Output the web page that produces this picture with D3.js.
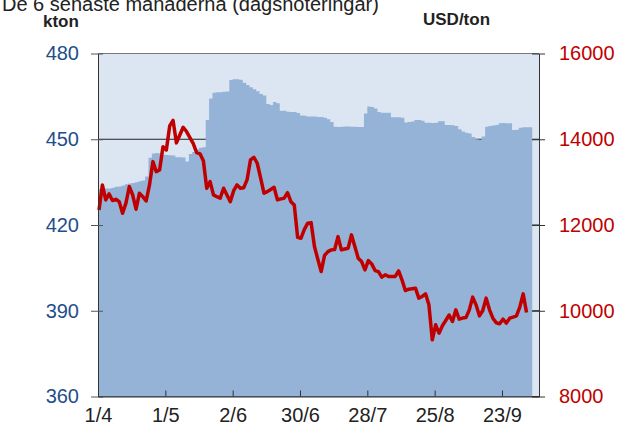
<!DOCTYPE html>
<html>
<head>
<meta charset="utf-8">
<script src="https://cdn.jsdelivr.net/npm/d3@7"></script>
<style>
  body { margin: 0; background: #fff; }
  svg { display: block; font-family: "Liberation Sans", Arial, sans-serif; }
</style>
</head>
<body>
<svg width="634" height="427"></svg>
<script>
// dagliga noteringar, index = handelsdag
var dateLabels = ['1/4', '1/5', '2/6', '30/6', '28/7', '25/8', '23/9'];
var dateTickIdx = [0, 20, 40, 60, 80, 100, 120];
var leftTicks = [360, 390, 420, 450, 480];
var rightTicks = [8000, 10000, 12000, 14000, 16000];

// lager, kton (staplar)
var stock = [
  432.6, 432.6, 432.8, 432.8, 433.0, 433.4, 433.5, 433.8, 434.3, 434.5,
  434.7, 435.0, 435.3, 435.6, 437.0, 443.5, 445.0, 445.2, 445.0, 444.6,
  444.5, 444.4, 444.3, 443.7, 443.7, 443.6, 442.2, 444.8, 445.5, 446.5,
  447.0, 447.2, 456.7, 464.3, 466.3, 466.4, 466.4, 466.6, 466.7, 470.7,
  471.0, 471.0, 470.8, 469.8, 469.0, 468.2, 467.5, 466.8, 465.8, 465.3,
  462.3, 462.0, 463.0, 462.6, 460.0, 460.0, 459.6, 459.5, 459.5, 459.2,
  458.3, 458.2, 458.0, 458.0, 458.0, 457.8, 457.8, 457.5, 457.0, 456.0,
  454.4, 454.3, 454.4, 454.5, 454.5, 454.4, 454.4, 454.3, 454.3, 459.0,
  461.5, 461.3, 460.8, 459.5, 459.3, 459.3, 459.3, 457.7, 457.7, 457.7,
  457.5, 455.9, 456.0, 456.2, 456.7, 456.7, 456.5, 455.8, 455.8, 455.7,
  455.8, 456.3, 456.3, 455.0, 455.0, 454.9, 454.6, 453.5, 452.7, 452.3,
  452.0, 450.8, 450.0, 449.8, 451.0, 454.4, 454.6, 454.8, 455.0, 455.6,
  455.7, 455.6, 455.6, 453.2, 453.3, 454.0, 454.2, 454.2, 454.2
];

// pris, USD/ton
var price = [
  12350, 12935, 12585, 12725, 12570, 12600, 12545, 12275, 12510, 12895,
  12700, 12368, 12740, 12662, 12560, 12935, 13478, 13245, 13285, 13827,
  13750, 14310, 14440, 13915, 14100, 14280, 14180, 14040, 13900, 13690,
  13660, 13500, 12858, 13012, 12702, 12660, 12625, 12858, 12700, 12545,
  12800, 12935, 12858, 12870, 13060, 13518, 13580, 13440, 13100, 12741,
  12779, 12830, 12881, 12585, 12610, 12625, 12755, 12545, 12468, 11715,
  11692, 11900, 12042, 12056, 11497, 11200, 10914, 11290, 11380, 11420,
  11430, 11730, 11420, 11440, 11459, 11769, 11497, 11226, 11148, 10953,
  11170, 11093, 10937, 10914, 10783, 10837, 10800, 10797, 10800, 10930,
  10720, 10471, 10503, 10515, 10527, 10294, 10333, 10394, 10138, 9322,
  9672, 9477, 9650, 9772, 9900, 9749, 10021, 9804, 9830, 9840,
  10021, 10317, 10138, 9881, 10005, 10294, 10021, 9827, 9720, 9695,
  9804, 9711, 9827, 9850, 9881, 10084, 10394, 9958
];

var svg = d3.select('svg');
var L = 98, R = 539, T = 53.5, B = 396.5;

var x = d3.scaleLinear().domain([0, 131]).range([L, R]);
var yL = d3.scaleLinear().domain([360, 480]).range([B, T]);
var yR = d3.scaleLinear().domain([8000, 16000]).range([B, T]);

// titel (delvis utanför bild)
svg.append('text').attr('x', 2).attr('y', 11).attr('font-size', 20).attr('fill', '#222')
  .text('De 6 senaste månaderna (dagsnoteringar)');
svg.append('text').attr('x', 43).attr('y', 27).attr('font-size', 17).attr('font-weight', 'bold').attr('fill', '#222')
  .text('kton');
svg.append('text').attr('x', 423).attr('y', 25).attr('font-size', 17).attr('font-weight', 'bold').attr('fill', '#222')
  .text('USD/ton');

// plotyta
svg.append('rect').attr('x', L).attr('y', T).attr('width', R - L).attr('height', B - T).attr('fill', '#dce6f2');

// stödlinjer
svg.append('g').selectAll('line').data(leftTicks).join('line')
  .attr('x1', L).attr('x2', R).attr('y1', d => yL(d)).attr('y2', d => yL(d))
  .attr('stroke', '#222').attr('stroke-width', 1);

// lager som staplar
var stockPts = stock.map((v, i) => [i, v]);
stockPts.push([stock.length, stock[stock.length - 1]]);
var area = d3.area().curve(d3.curveStepAfter)
  .x(d => x(d[0])).y0(yL(360)).y1(d => yL(d[1]));
svg.append('path').datum(stockPts).attr('d', area).attr('fill', '#95b3d7');

// ram
svg.append('line').attr('x1', L).attr('x2', R).attr('y1', T).attr('y2', T).attr('stroke', '#777').attr('stroke-width', 1);

// prislinje
var line = d3.line().x((d, i) => x(i + 0.3)).y(d => yR(d)).curve(d3.curveLinear);
svg.append('path').datum(price).attr('d', line).attr('fill', 'none')
  .attr('stroke', '#c00000').attr('stroke-width', 3.5).attr('stroke-linejoin', 'round');

// vänster axel
var axL = d3.axisLeft(yL).tickValues(leftTicks).tickSize(0).tickPadding(19);
var gL = svg.append('g').attr('transform', 'translate(' + L + ',0)').call(axL);
gL.select('.domain').attr('stroke', '#333');
gL.selectAll('.tick line').attr('x1', -7).attr('x2', 5).attr('stroke', '#555');
gL.selectAll('.tick text').attr('font-size', 20).attr('fill', '#1f4e8c').attr('font-family', null);

// höger axel
var axR = d3.axisRight(yR).tickValues(rightTicks).tickFormat(d3.format('d')).tickSize(0).tickPadding(20);
var gR = svg.append('g').attr('transform', 'translate(' + R + ',0)').call(axR);
gR.select('.domain').attr('stroke', '#333');
gR.selectAll('.tick line').attr('x1', -7).attr('x2', 6).attr('stroke', '#333');
gR.selectAll('.tick text').attr('font-size', 20).attr('fill', '#c00000').attr('font-family', null);

// x-axel
var axB = d3.axisBottom(x).tickValues(dateTickIdx).tickFormat((d, i) => dateLabels[i]).tickSize(0).tickPadding(11);
var gB = svg.append('g').attr('transform', 'translate(0,' + B + ')').call(axB);
gB.select('.domain').attr('stroke', '#333');
gB.selectAll('.tick line').attr('y1', -6).attr('y2', 0).attr('stroke', '#333');
gB.selectAll('.tick text').attr('font-size', 20).attr('fill', '#222').attr('font-family', null);
</script>
</body>
</html>
